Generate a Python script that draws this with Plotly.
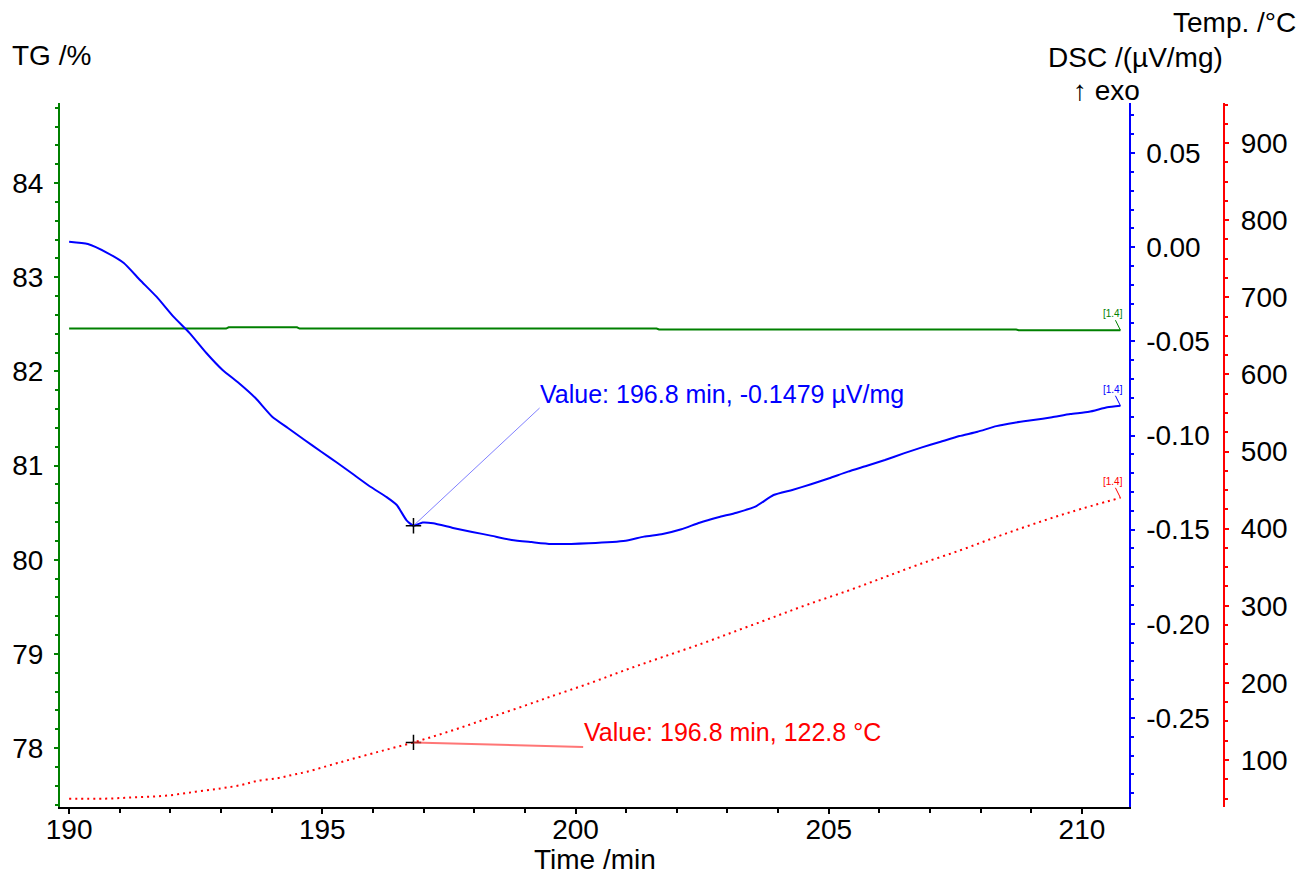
import plotly.graph_objects as go

# ---------------- data ----------------
time_dsc = [190.00, 190.37, 190.76, 191.08, 191.40, 191.73, 192.06, 192.38, 192.71, 193.03,
            193.35, 193.68, 194.01, 194.32, 194.65, 194.98, 195.30, 195.63, 195.95, 196.27,
            196.47, 196.66, 196.80, 196.98, 197.19, 197.58, 197.96, 198.35, 198.74, 199.13,
            199.52, 200.26, 200.99, 201.35, 201.72, 202.09, 202.45, 202.82, 203.18, 203.55,
            203.91, 204.28, 204.65, 205.01, 205.38, 205.74, 206.11, 206.48, 206.84, 207.21,
            207.58, 207.94, 208.31, 208.67, 209.04, 209.41, 209.77, 210.14, 210.50, 210.76]
dsc = [0.0029, 0.0017, -0.0031, -0.0084, -0.0174, -0.0264, -0.0369, -0.0456, -0.0562, -0.0652,
       -0.0721, -0.0801, -0.0900, -0.0960, -0.1024, -0.1086, -0.1146, -0.1210, -0.1272, -0.1327,
       -0.1369, -0.1449, -0.1479, -0.1462, -0.1466, -0.1491, -0.1512, -0.1533, -0.1555, -0.1566,
       -0.1576, -0.1572, -0.1559, -0.1537, -0.1523, -0.1498, -0.1463, -0.1434, -0.1410, -0.1378,
       -0.1316, -0.1289, -0.1259, -0.1227, -0.1192, -0.1162, -0.1130, -0.1095, -0.1063, -0.1033,
       -0.1003, -0.0980, -0.0950, -0.0932, -0.0918, -0.0903, -0.0886, -0.0874, -0.0850, -0.0842]

time_tg = [190.00, 193.10, 193.15, 194.50, 194.55, 201.60, 201.65, 208.70, 208.75, 210.76]
tg = [82.455, 82.455, 82.468, 82.468, 82.455, 82.455, 82.445, 82.445, 82.437, 82.437]

time_temp = [190.0, 190.7, 191.3, 191.9, 192.5, 193.0, 193.4, 193.7, 194.1, 194.4,
             194.7, 195.3, 196.0, 196.8, 197.6, 198.4, 199.2, 199.5, 200.3, 201.0,
             201.7, 202.5, 203.2, 203.9, 204.6, 205.4, 206.1, 206.8, 207.6, 208.3,
             209.0, 209.8, 210.76]
temp = [49.7, 49.8, 51.6, 53.6, 58.8, 63.2, 67.5, 72.7, 76.2, 80.5,
        84.8, 96.0, 108.7, 122.8, 139, 157, 175, 182, 200, 217,
        233, 251, 268, 285, 302, 320, 337, 354, 372, 389,
        405, 422, 440]

# marked points
mark_time = 196.8
mark_dsc = -0.1479
mark_temp = 122.8
label_dsc_pos = (199.29, -0.0854)   # end of blue leader line
label_temp_pos = (200.15, 116.9)    # end of red leader line

# tick labels
x_ticks = [190, 195, 200, 205, 210]
tg_ticks = [78, 79, 80, 81, 82, 83, 84]
dsc_ticks = [0.05, 0.00, -0.05, -0.10, -0.15, -0.20, -0.25]
dsc_ticktext = ["0.05", "0.00", "-0.05", "-0.10", "-0.15", "-0.20", "-0.25"]
temp_ticks = [100, 200, 300, 400, 500, 600, 700, 800, 900]

# ---------------- styling ----------------
FONT = "Liberation Sans, Arial, sans-serif"
GREEN = "#008000"
BLUE = "#0000ff"
RED = "#ff0000"
W, H = 1300, 875
L, R, T, B = 52, 50, 103, 68
PW = W - L - R
PH = H - T - B
x_dom_end = (1135 - L) / PW
temp_pos = (1232 - L) / PW
FS = 28


def px(xp):
    return (xp - L) / PW


def py(yp):
    return (H - B - yp) / PH


fig = go.Figure()

fig.add_trace(go.Scatter(x=time_tg, y=tg, mode="lines", yaxis="y",
                         line=dict(color=GREEN, width=2), showlegend=False))
fig.add_trace(go.Scatter(x=time_dsc, y=dsc, mode="lines", yaxis="y2",
                         line=dict(color=BLUE, width=2, shape="spline", smoothing=0.5),
                         showlegend=False))
fig.add_trace(go.Scatter(x=time_temp, y=temp, mode="lines", yaxis="y3",
                         line=dict(color=RED, width=2, dash="2px,4px", shape="spline"),
                         showlegend=False))

# leader lines for value labels
fig.add_shape(type="line", xref="x", yref="y2", x0=mark_time, y0=mark_dsc,
              x1=label_dsc_pos[0], y1=label_dsc_pos[1],
              line=dict(color="rgba(60,60,255,0.65)", width=1))
fig.add_shape(type="line", xref="x", yref="y3", x0=mark_time, y0=mark_temp,
              x1=label_temp_pos[0], y1=label_temp_pos[1],
              line=dict(color="rgba(255,60,60,0.7)", width=2))

# cross markers
fig.add_trace(go.Scatter(x=[mark_time], y=[mark_dsc], yaxis="y2", mode="markers",
                         marker=dict(symbol="cross-thin", size=11,
                                     line=dict(color="black", width=1.5)),
                         showlegend=False))
fig.add_trace(go.Scatter(x=[mark_time], y=[mark_temp], yaxis="y3", mode="markers",
                         marker=dict(symbol="cross-thin", size=11,
                                     line=dict(color="black", width=1.5)),
                         showlegend=False))

annotations = []
annotations.append(dict(x=label_dsc_pos[0], y=label_dsc_pos[1], xref="x", yref="y2",
                        text=f"Value: {mark_time} min, {mark_dsc} µV/mg",
                        xanchor="left", yanchor="bottom", showarrow=False,
                        font=dict(family=FONT, size=25, color=BLUE), xshift=-2, yshift=-2))
annotations.append(dict(x=label_temp_pos[0], y=label_temp_pos[1], xref="x", yref="y3",
                        text=f"Value: {mark_time} min, {mark_temp} °C",
                        xanchor="left", yanchor="bottom", showarrow=False,
                        font=dict(family=FONT, size=25, color=RED), xshift=-1, yshift=-1))

# end markers [1.4]
ends = [(time_tg[-1], tg[-1], "y", GREEN),
        (time_dsc[-1], dsc[-1], "y2", BLUE),
        (time_temp[-1], temp[-1], "y3", RED)]
for xe, ye, yr, col in ends:
    fig.add_shape(type="line", xref="x", yref=yr, xsizemode="pixel", ysizemode="pixel",
                  xanchor=xe, yanchor=ye, x0=0, y0=0, x1=-5, y1=10,
                  line=dict(color=col, width=1))
    annotations.append(dict(x=xe, y=ye, xref="x", yref=yr, text="[1.4]", showarrow=False,
                            xanchor="center", yanchor="bottom", xshift=-7, yshift=9,
                            font=dict(family=FONT, size=10, color=col)))

# axis titles as text
annotations += [
    dict(x=px(1), y=py(55), xref="paper", yref="paper", text="TG /%", showarrow=False,
         xanchor="left", yanchor="middle", font=dict(family=FONT, size=FS, color="black")),
    dict(x=px(1307), y=py(22), xref="paper", yref="paper", text="Temp. /°C", showarrow=False,
         xanchor="right", yanchor="middle", font=dict(family=FONT, size=FS, color="black")),
    dict(x=px(1233), y=py(58), xref="paper", yref="paper", text="DSC /(µV/mg)", showarrow=False,
         xanchor="right", yanchor="middle", font=dict(family=FONT, size=FS, color="black")),
    dict(x=px(1077), y=py(91), xref="paper", yref="paper", text="↑ exo", showarrow=False,
         xanchor="left", yanchor="middle", font=dict(family=FONT, size=FS, color="black")),
    dict(x=px(594), y=py(859), xref="paper", yref="paper", text="Time /min", showarrow=False,
         xanchor="center", yanchor="middle", borderpad=0,
         font=dict(family=FONT, size=FS, color="black")),
]

tickfont = dict(family=FONT, size=FS, color="black")

fig.update_layout(
    width=W, height=H,
    margin=dict(l=L, r=R, t=T, b=B, pad=0),
    paper_bgcolor="white", plot_bgcolor="white",
    font=dict(family=FONT),
    showlegend=False,
    annotations=annotations,
    xaxis=dict(domain=[0, x_dom_end], range=[189.82, 210.92],
               tickmode="array", tickvals=x_ticks, ticks="outside", ticklen=5,
               tickcolor="black", tickwidth=1.5,
               minor=dict(tickmode="linear", tick0=190, dtick=1, ticks="outside",
                          ticklen=4, tickcolor="black", tickwidth=1.5),
               showline=True, linecolor="black", linewidth=2,
               showgrid=False, zeroline=False, tickfont=tickfont, ticklabelstandoff=-9),
    yaxis=dict(range=[77.374, 84.85], tickmode="array", tickvals=tg_ticks,
               ticks="outside", ticklen=4, tickcolor=GREEN, tickwidth=1.5,
               minor=dict(tickmode="linear", tick0=78, dtick=0.2, ticks="outside",
                          ticklen=3, tickcolor=GREEN, tickwidth=1.5),
               showline=True, linecolor=GREEN, linewidth=2,
               showgrid=False, zeroline=False, tickfont=tickfont, ticklabelstandoff=5),
    yaxis2=dict(range=[-0.2973, 0.0766], overlaying="y", side="right", anchor="x",
                tickmode="array", tickvals=dsc_ticks, ticktext=dsc_ticktext,
                ticks="outside", ticklen=4, tickcolor=BLUE, tickwidth=1.5,
                minor=dict(tickmode="linear", tick0=0, dtick=0.01, ticks="outside",
                           ticklen=3, tickcolor=BLUE, tickwidth=1.5),
                showline=True, linecolor=BLUE, linewidth=2,
                showgrid=False, zeroline=False, tickfont=tickfont, ticklabelstandoff=6),
    yaxis3=dict(range=[39, 952], overlaying="y", side="right", anchor="free",
                position=temp_pos,
                tickmode="array", tickvals=temp_ticks,
                ticks="outside", ticklen=4, tickcolor=RED, tickwidth=1.5,
                minor=dict(tickmode="linear", tick0=0, dtick=25, ticks="outside",
                           ticklen=3, tickcolor=RED, tickwidth=1.5),
                showline=True, linecolor=RED, linewidth=2,
                showgrid=False, zeroline=False, tickfont=tickfont, ticklabelstandoff=6),
)

fig.write_html("out.html")
